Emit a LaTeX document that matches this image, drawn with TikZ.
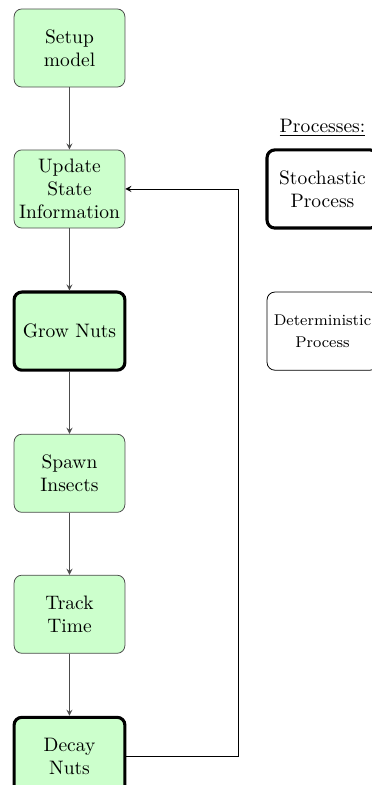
\documentclass[tikz,border=0pt]{standalone}
\usepackage{amsmath}
\usepackage{xcolor}
\definecolor{nutgreen}{RGB}{204,255,204}
\definecolor{linegray}{gray}{0.3}
\usepackage{tikz}
\usetikzlibrary{arrows, positioning, shapes}

\tikzset{
	procbox/.style={rectangle, rounded corners=4pt, draw=linegray, fill=nutgreen, thin, minimum width=2cm, minimum height=1.41cm, align=center, inner sep=1pt},
	stochbox/.style={procbox, draw=black, ultra thick},
	legendbox/.style={procbox, fill=white},
	flow/.style={->, >=stealth, linegray, thin}
}

\begin{document}
\begin{tikzpicture}[node distance=1.12cm]

\useasboundingbox (-1.254, 0.866) rectangle (5.457, -13.30);

% main loop
\node[procbox] (setup) {Setup\\model};
\node[procbox, below=of setup] (update) {Update\\State\\Information};
\node[stochbox, below=of update] (grow) {Grow Nuts};
\node[procbox, below=of grow] (spawn) {Spawn\\Insects};
\node[procbox, below=of spawn] (track) {Track\\Time};
\node[stochbox, below=of track] (decay) {Decay\\Nuts};

% legend
\node[stochbox, fill=white, right=2.53cm of update] (stoch) {Stochastic\\Process};
\node[legendbox, draw=black, right=2.53cm of grow, font=\footnotesize] (determ) {Deterministic\\[2pt]Process};
\node[above=0.2cm of stoch, inner sep=0pt] (legend) {\underline{Processes:}};

\foreach \a/\b in {setup/update, update/grow, grow/spawn, spawn/track, track/decay} {
	\draw[flow] (\a) -- (\b); % step arrow
}

\coordinate[right=2.02cm of decay.east] (back);
\draw[->, >=stealth, black, thin] (decay.east) -- (back) |- (update.east); % back to update

\end{tikzpicture}
\end{document}
